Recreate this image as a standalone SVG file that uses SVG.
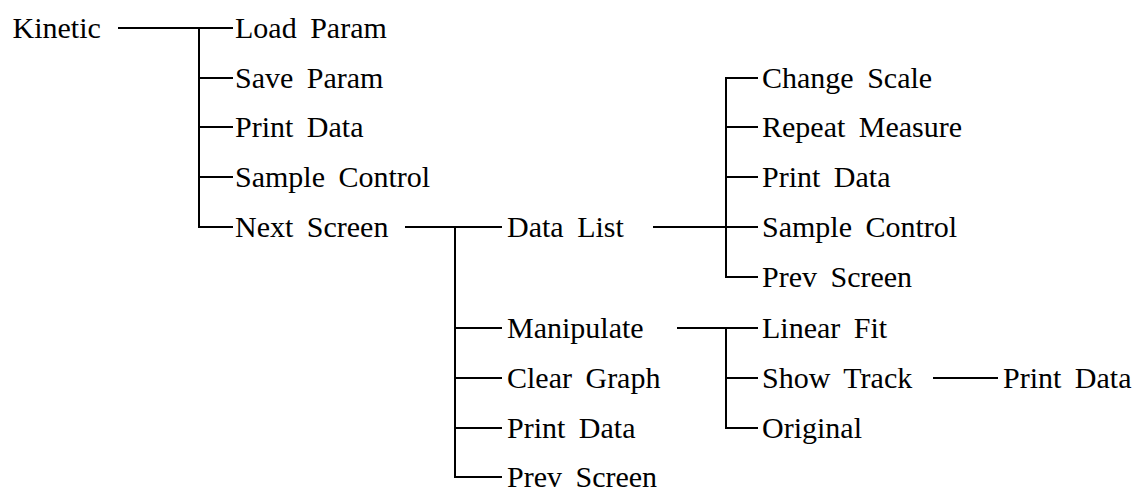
<svg xmlns="http://www.w3.org/2000/svg" width="1135" height="488" viewBox="0 0 1135 488">
<style>
text{font-family:"Liberation Serif","Times New Roman",serif;font-size:30px;fill:#000;word-spacing:6px}
.c{fill:none;stroke:#000;stroke-width:2;stroke-linecap:square;stroke-linejoin:miter}
</style>
<rect width="1135" height="488" fill="#fff"/>
<g id="connectors" class="c">
<path d="M119 28H199"/>
<path d="M199 28V227H232M199 28H232M199 78H232M199 127H232M199 177H232"/>
<path d="M406 227H501"/>
<path d="M455 227V477H501M455 328H501M455 378H501M455 428H501"/>
<path d="M654 227H757"/>
<path d="M726 78V277H757M726 78H757M726 127H757M726 177H757"/>
<path d="M678 328H757"/>
<path d="M726 328V428H757M726 378H757"/>
<path d="M934 378H997"/>
</g>
<g id="n-kinetic"><text x="12.5" y="38">Kinetic</text></g>
<g id="n-load-param"><text x="235" y="38">Load Param</text></g>
<g id="n-save-param"><text x="235" y="88">Save Param</text></g>
<g id="n-print-data-1"><text x="235" y="137">Print Data</text></g>
<g id="n-sample-control-1"><text x="235" y="187">Sample Control</text></g>
<g id="n-next-screen"><text x="235" y="237">Next Screen</text></g>
<g id="n-data-list"><text x="507" y="237">Data List</text></g>
<g id="n-manipulate"><text x="507" y="338">Manipulate</text></g>
<g id="n-clear-graph"><text x="507" y="388">Clear Graph</text></g>
<g id="n-print-data-2"><text x="507" y="438">Print Data</text></g>
<g id="n-prev-screen-2"><text x="507" y="487">Prev Screen</text></g>
<g id="n-change-scale"><text x="762" y="88">Change Scale</text></g>
<g id="n-repeat-measure"><text x="762" y="137">Repeat Measure</text></g>
<g id="n-print-data-3"><text x="762" y="187">Print Data</text></g>
<g id="n-sample-control-2"><text x="762" y="237">Sample Control</text></g>
<g id="n-prev-screen-1"><text x="762" y="287">Prev Screen</text></g>
<g id="n-linear-fit"><text x="762" y="338">Linear Fit</text></g>
<g id="n-show-track"><text x="762" y="388">Show Track</text></g>
<g id="n-original"><text x="762" y="438">Original</text></g>
<g id="n-print-data-4"><text x="1003" y="388">Print Data</text></g>
</svg>
